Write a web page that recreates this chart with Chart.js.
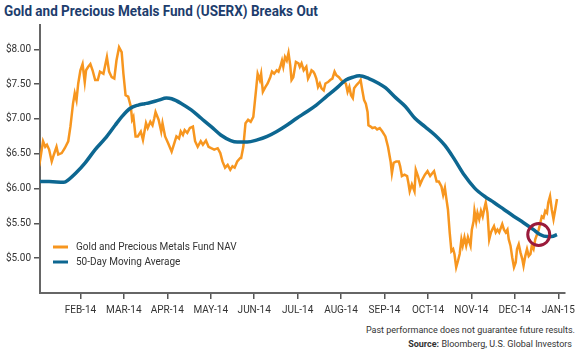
<!DOCTYPE html>
<html>
<head>
<meta charset="utf-8">
<script src="https://cdn.jsdelivr.net/npm/chart.js@4.4.1/dist/chart.umd.min.js"></script>
<style>
  body { margin: 0; background: #fff; width: 580px; height: 353px; overflow: hidden; font-family: Roboto, sans-serif; }
  #title { position: absolute; left: 4px; top: 2px; font-size: 15px; font-weight: bold; color: #1d3d6d; white-space: nowrap; transform: scaleX(0.9); transform-origin: left top; }
  #box { position: absolute; left: 0; top: 0; width: 580px; height: 322px; }
  .note { position: absolute; right: 5px; font-size: 9px; color: #333; white-space: nowrap; }
</style>
</head>
<body>
<div id="title">Gold and Precious Metals Fund (USERX) Breaks Out</div>
<div id="box"><canvas id="myChart"></canvas></div>
<div class="note" style="top:325px">Past performance does not guarantee future results.</div>
<div class="note" style="top:339px;right:8px"><b>Source:</b> Bloomberg, U.S. Global Investors</div>
<script>
// maand labels (positie 1 = begin februari)
const monthLabels = ['FEB-14', 'MAR-14', 'APR-14', 'MAY-14', 'JUN-14', 'JUL-14', 'AUG-14', 'SEP-14', 'OCT-14', 'NOV-14', 'DEC-14', 'JAN-15'];
const priceTicks = [5.0, 5.5, 6.0, 6.5, 7.0, 7.5, 8.0];

// NAV: [maand, koers]
const navData = [
  [0.05, 6.32], [0.14, 6.68], [0.19, 6.60], [0.23, 6.63], [0.28, 6.56], [0.34, 6.39], [0.39, 6.49], [0.45, 6.60],
  [0.49, 6.49], [0.57, 6.51], [0.64, 6.58], [0.72, 6.68], [0.77, 6.89], [0.83, 7.22], [0.87, 7.37], [0.91, 7.27],
  [0.95, 7.51], [1.00, 7.70], [1.05, 7.79], [1.10, 7.53], [1.13, 7.70], [1.18, 7.75], [1.23, 7.79], [1.28, 7.70],
  [1.34, 7.56], [1.40, 7.56], [1.45, 7.68], [1.53, 7.65], [1.61, 7.89], [1.66, 7.68], [1.72, 7.60], [1.78, 7.58],
  [1.83, 7.84], [1.89, 8.03], [1.95, 7.96], [1.99, 7.65], [2.04, 7.34], [2.10, 7.32], [2.16, 7.18], [2.19, 6.99],
  [2.22, 7.03], [2.27, 6.75], [2.32, 6.75], [2.39, 6.82], [2.44, 6.70], [2.51, 6.94], [2.55, 6.87], [2.61, 6.96],
  [2.66, 6.91], [2.70, 7.01], [2.73, 7.10], [2.80, 6.99], [2.86, 6.82], [2.89, 6.94], [2.95, 6.75], [3.02, 6.65],
  [3.10, 6.53], [3.16, 6.65], [3.21, 6.75], [3.27, 6.72], [3.31, 6.82], [3.36, 6.77], [3.40, 6.84], [3.46, 6.80],
  [3.52, 6.87], [3.59, 6.89], [3.64, 6.68], [3.70, 6.60], [3.77, 6.68], [3.82, 6.63], [3.89, 6.69], [3.95, 6.60],
  [4.01, 6.58], [4.08, 6.56], [4.16, 6.58], [4.22, 6.51], [4.27, 6.39], [4.33, 6.30], [4.39, 6.34], [4.45, 6.27],
  [4.50, 6.32], [4.55, 6.30], [4.61, 6.39], [4.68, 6.44], [4.70, 6.44], [4.75, 6.60], [4.80, 6.94], [4.86, 6.99],
  [4.92, 6.96], [4.98, 7.03], [5.05, 7.46], [5.08, 7.65], [5.13, 7.56], [5.16, 7.65], [5.20, 7.39], [5.26, 7.46],
  [5.31, 7.51], [5.37, 7.60], [5.41, 7.68], [5.46, 7.65], [5.52, 7.70], [5.56, 7.68], [5.60, 7.75], [5.64, 7.84],
  [5.67, 7.75], [5.71, 7.89], [5.75, 7.84], [5.79, 7.95], [5.83, 7.77], [5.86, 7.56], [5.90, 7.60], [5.96, 7.82],
  [6.02, 7.80], [6.05, 7.75], [6.09, 7.80], [6.14, 7.70], [6.20, 7.75], [6.24, 7.58], [6.28, 7.63], [6.32, 7.70],
  [6.36, 7.68], [6.39, 7.65], [6.43, 7.58], [6.47, 7.46], [6.51, 7.51], [6.55, 7.44], [6.60, 7.41], [6.64, 7.51],
  [6.70, 7.53], [6.75, 7.56], [6.80, 7.58], [6.85, 7.68], [6.89, 7.63], [6.95, 7.60], [7.00, 7.56], [7.05, 7.53],
  [7.11, 7.51], [7.15, 7.39], [7.19, 7.46], [7.23, 7.34], [7.27, 7.30], [7.30, 7.44], [7.36, 7.49], [7.42, 7.53],
  [7.45, 7.56], [7.49, 7.41], [7.53, 7.27], [7.57, 7.22], [7.61, 7.10], [7.63, 6.91], [7.68, 6.89], [7.72, 6.87],
  [7.78, 6.88], [7.83, 6.85], [7.89, 6.87], [7.95, 6.82], [8.02, 6.75], [8.08, 6.60], [8.14, 6.39], [8.17, 6.22],
  [8.21, 6.37], [8.27, 6.39], [8.33, 6.39], [8.36, 6.32], [8.40, 6.18], [8.46, 6.20], [8.52, 6.18], [8.55, 6.08],
  [8.58, 5.96], [8.63, 6.06], [8.69, 5.96], [8.72, 6.27], [8.77, 6.18], [8.82, 6.06], [8.87, 6.13], [8.93, 6.20],
  [8.99, 6.25], [9.05, 6.18], [9.10, 6.22], [9.14, 6.25], [9.20, 6.10], [9.25, 6.10], [9.31, 6.03], [9.35, 5.91],
  [9.39, 6.01], [9.42, 5.87], [9.46, 5.70], [9.50, 5.37], [9.54, 5.10], [9.58, 5.13], [9.61, 5.06], [9.65, 4.87],
  [9.69, 4.96], [9.73, 5.06], [9.77, 5.27], [9.80, 5.18], [9.84, 5.30], [9.88, 5.18], [9.92, 5.30], [9.98, 5.18],
  [10.01, 5.41], [10.05, 5.53], [10.07, 5.68], [10.11, 5.53], [10.14, 5.65], [10.18, 5.56], [10.22, 5.68], [10.26, 5.60],
  [10.30, 5.72], [10.33, 5.80], [10.37, 5.65], [10.41, 5.27], [10.45, 5.37], [10.48, 5.41], [10.52, 5.46], [10.56, 5.37],
  [10.60, 5.41], [10.64, 5.37], [10.68, 5.44], [10.71, 5.49], [10.75, 5.41], [10.79, 5.37], [10.83, 5.41], [10.86, 5.27],
  [10.90, 5.18], [10.94, 5.01], [10.98, 4.87], [11.02, 4.94], [11.05, 5.13], [11.09, 5.20], [11.13, 5.08], [11.17, 4.99],
  [11.20, 4.89], [11.24, 5.03], [11.28, 5.13], [11.32, 5.03], [11.36, 5.06], [11.39, 5.18], [11.43, 5.13], [11.47, 5.27],
  [11.51, 5.34], [11.55, 5.41], [11.58, 5.49], [11.62, 5.60], [11.66, 5.58], [11.70, 5.68], [11.74, 5.65], [11.77, 5.80],
  [11.81, 5.89], [11.85, 5.70], [11.89, 5.56], [11.93, 5.70], [11.97, 5.85]
];

// 50-daags gemiddelde
const maData = [
  [0.02, 6.10], [0.28, 6.10], [0.62, 6.09], [0.73, 6.13], [0.89, 6.22], [1.11, 6.37], [1.34, 6.56], [1.57, 6.72],
  [1.80, 6.91], [1.95, 7.03], [2.14, 7.15], [2.33, 7.20], [2.48, 7.22], [2.57, 7.23], [2.80, 7.27], [2.98, 7.30],
  [3.10, 7.29], [3.33, 7.22], [3.55, 7.13], [3.78, 7.01], [4.01, 6.89], [4.23, 6.77], [4.46, 6.69], [4.61, 6.67],
  [4.84, 6.67], [5.07, 6.70], [5.30, 6.75], [5.52, 6.82], [5.75, 6.91], [5.98, 7.01], [6.20, 7.10], [6.43, 7.20],
  [6.66, 7.32], [6.89, 7.44], [7.11, 7.56], [7.27, 7.60], [7.42, 7.62], [7.64, 7.58], [7.87, 7.51], [8.02, 7.45],
  [8.25, 7.31], [8.48, 7.18], [8.70, 7.01], [8.93, 6.89], [9.16, 6.77], [9.39, 6.62], [9.61, 6.42], [9.84, 6.19],
  [10.07, 6.01], [10.30, 5.89], [10.52, 5.80], [10.75, 5.70], [10.98, 5.60], [11.20, 5.51], [11.43, 5.41], [11.58, 5.34],
  [11.74, 5.31], [11.85, 5.31], [11.97, 5.34]
];

// kruispunt (cirkel)
const crossPoint = [11.55, 5.34];

const toXY = arr => arr.map(p => ({ x: p[0], y: p[1] }));
const axisFont = { family: 'Roboto, sans-serif', size: 10 };

const legendPlugin = { // tekent legenda in het plot
  id: 'insideLegend',
  afterDraw(chart) {
    const c = chart.ctx;
    const sets = chart.data.datasets.filter(d => d.label);
    c.save();
    c.font = '10px Roboto, sans-serif';
    c.textBaseline = 'middle';
    sets.forEach((d, i) => {
      const y = 247 + i * 15;
      c.strokeStyle = d.borderColor;
      c.lineWidth = 3;
      c.beginPath();
      c.moveTo(53, y);
      c.lineTo(68, y);
      c.stroke();
      c.fillStyle = '#333';
      c.fillText(d.label, 76, y);
    });
    c.restore();
  }
};

const ctx = document.getElementById('myChart');
new Chart(ctx, {
  type: 'line',
  data: {
    datasets: [{
      label: 'Gold and Precious Metals Fund NAV',
      data: toXY(navData),
      borderColor: '#f7961f',
      borderWidth: 2.5,
      pointRadius: 0,
      tension: 0,
      order: 2
    }, {
      label: '50-Day Moving Average',
      data: toXY(maData),
      borderColor: '#0d6791',
      borderWidth: 3.5,
      pointRadius: 0,
      cubicInterpolationMode: 'monotone',
      order: 1
    }, {
      label: '',
      data: [{ x: crossPoint[0], y: crossPoint[1] }],
      showLine: false,
      pointRadius: 11,
      pointBorderWidth: 3,
      pointBorderColor: '#9a1a3a',
      pointBackgroundColor: 'rgba(0,0,0,0)',
      borderColor: '#9a1a3a',
      order: 0
    }]
  },
  options: {
    responsive: true,
    maintainAspectRatio: false,
    animation: false,
    layout: { padding: { top: 25, right: 10, left: 0, bottom: 0 } },
    plugins: { legend: { display: false }, tooltip: { enabled: false } },
    scales: {
      x: {
        type: 'linear',
        min: 0.07,
        max: 12.15,
        afterBuildTicks: s => { s.ticks = monthLabels.map((l, i) => ({ value: i + 1 })); },
        afterFit: s => { s.height = 29; },
        border: { color: '#666', width: 2 },
        grid: { drawOnChartArea: false, color: '#555', tickLength: 6, lineWidth: 1.5 },
        ticks: {
          autoSkip: false,
          maxRotation: 0,
          color: '#333',
          padding: 5,
          font: axisFont,
          callback: v => monthLabels[v - 1]
        }
      },
      y: {
        min: 4.5,
        max: 8.35,
        afterBuildTicks: s => { s.ticks = priceTicks.map(v => ({ value: v })); },
        afterFit: s => { s.width = 40; },
        border: { color: '#666', width: 2 },
        grid: { drawOnChartArea: false, color: '#555', tickLength: 6, lineWidth: 1.5 },
        ticks: {
          color: '#333',
          padding: 3,
          font: axisFont,
          callback: v => '$' + v.toFixed(2)
        }
      }
    }
  },
  plugins: [legendPlugin]
});
</script>
</body>
</html>
